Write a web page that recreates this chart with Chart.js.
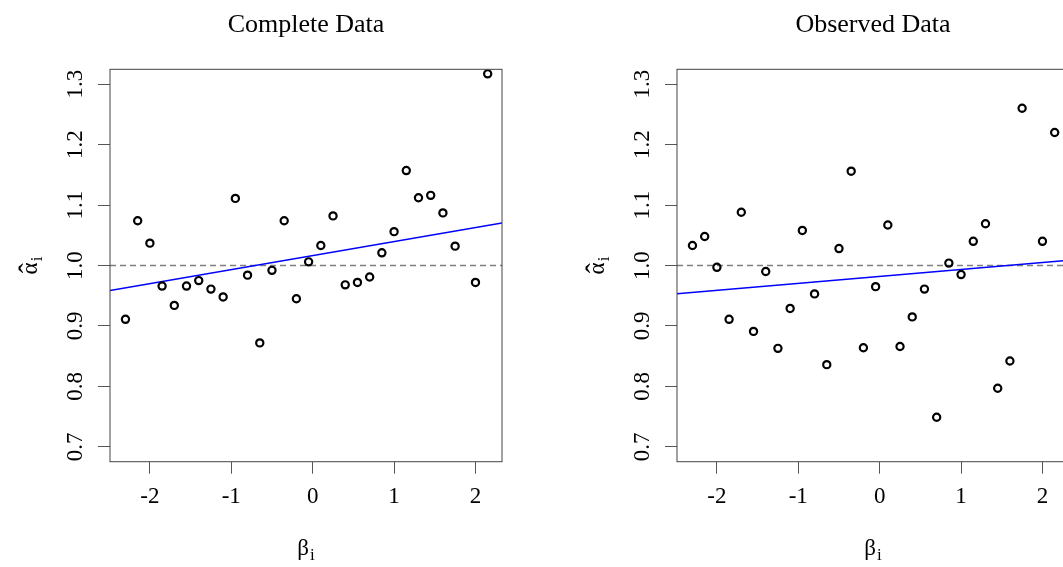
<!DOCTYPE html>
<html>
<head>
<meta charset="utf-8">
<script src="https://cdn.jsdelivr.net/npm/chart.js@4"></script>
<style>
  html, body { margin: 0; padding: 0; background: #fff; overflow: hidden; width: 1063px; height: 567px; }
  .panel { position: absolute; top: 0; width: 531px; height: 567px; }
</style>
</head>
<body>
<div class="panel" style="left:0"><canvas id="completeChart" width="531" height="567"></canvas></div>
<div class="panel" style="left:567px"><canvas id="observedChart" width="531" height="567"></canvas></div>
<script>
// beta_i (x) for every item, same in both panels
const betas = [-2.3, -2.15, -2.0, -1.85, -1.7, -1.55, -1.4, -1.25, -1.1, -0.95,
               -0.8, -0.65, -0.5, -0.35, -0.2, -0.05, 0.1, 0.25, 0.4, 0.55,
               0.7, 0.85, 1.0, 1.15, 1.3, 1.45, 1.6, 1.75, 2.0, 2.15];
// alpha-hat_i estimates
const alphaComplete = [0.911, 1.074, 1.037, 0.966, 0.934, 0.966, 0.975, 0.961, 0.948, 1.111,
                       0.984, 0.872, 0.992, 1.074, 0.945, 1.006, 1.033, 1.082, 0.968, 0.972,
                       0.981, 1.021, 1.056, 1.157, 1.112, 1.116, 1.087, 1.032, 0.972, 1.317];
const alphaObserved = [1.033, 1.048, 0.997, 0.911, 1.088, 0.891, 0.990, 0.863, 0.929, 1.058,
                       0.953, 0.836, 1.028, 1.156, 0.864, 0.965, 1.067, 0.866, 0.915, 0.961,
                       0.749, 1.004, 0.985, 1.040, 1.069, 0.797, 0.842, 1.260, 1.040, 1.220];

const xTicks = [-2, -1, 0, 1, 2];
const yTicks = [0.7, 0.8, 0.9, 1.0, 1.1, 1.2, 1.3];
const xRange = [-2.49, 2.326];
const yRange = [0.6755, 1.3245];

// fitted regression line, value at the two ends of the x range
const fitComplete = [0.9587, 1.0705];
const fitObserved = [0.9532, 1.0086];
const refLine = [1, 1];

const serif = "'Liberation Serif', 'Times New Roman', serif";

// draws text like "alpha-hat sub i"
function drawSymbol(ctx, base, sub, hat, x, y, vertical) {
    ctx.save();
    ctx.translate(x, y);
    if (vertical) ctx.rotate(-Math.PI / 2);
    ctx.fillStyle = "#000";
    ctx.textBaseline = "alphabetic";
    ctx.font = "23px " + serif;
    const bw = ctx.measureText(base).width;
    ctx.font = "17px " + serif;
    const sw = ctx.measureText(sub).width;
    const start = -(bw + sw + 1) / 2;
    ctx.font = "23px " + serif;
    ctx.textAlign = "left";
    ctx.fillText(base, start, 0);
    if (hat) {
        ctx.font = "30px " + serif;
        ctx.textAlign = "center";
        ctx.fillText(hat, start + bw / 2, 2);
    }
    ctx.textAlign = "left";
    ctx.font = "17px " + serif;
    ctx.fillText(sub, start + bw + 1, 5);
    ctx.restore();
}

const rPlot = {
    id: "rPlot",
    afterDraw(chart, args, opts) {
        const { ctx, chartArea: a } = chart;
        ctx.save();
        ctx.strokeStyle = "#444";
        ctx.lineWidth = 1;
        ctx.strokeRect(a.left, a.top, a.right - a.left, a.bottom - a.top);
        const cx = (a.left + a.right) / 2;
        const cy = (a.top + a.bottom) / 2;
        ctx.fillStyle = "#000";
        ctx.font = "26px " + serif;
        ctx.textAlign = "center";
        ctx.textBaseline = "alphabetic";
        ctx.fillText(opts.title, cx, 32);
        ctx.restore();
        drawSymbol(ctx, "\u03b2", "i", null, cx, 555, false);
        drawSymbol(ctx, "\u03b1", "i", "\u02c6", a.left - 73, cy, true);
    }
};

function makeChart(id, title, alphas, fit) {
    return new Chart(document.getElementById(id), {
        data: {
            datasets: [
                {
                    type: "scatter",
                    data: betas.map((b, i) => ({ x: b, y: alphas[i] })),
                    pointStyle: "circle",
                    pointRadius: 3.6,
                    borderWidth: 2.2,
                    borderColor: "#000",
                    backgroundColor: "rgba(0,0,0,0)",
                    order: 1,
                },
                {
                    type: "line",
                    data: xRange.map((x, i) => ({ x: x, y: refLine[i] })),
                    borderColor: "#7f7f7f",
                    borderWidth: 1.3,
                    borderDash: [6, 4],
                    pointRadius: 0,
                    order: 3,
                },
                {
                    type: "line",
                    data: xRange.map((x, i) => ({ x: x, y: fit[i] })),
                    borderColor: "#0000ff",
                    borderWidth: 1.5,
                    pointRadius: 0,
                    order: 2,
                },
            ],
        },
        options: {
            responsive: false,
            animation: false,
            devicePixelRatio: 1,
            layout: { padding: { top: 69.3, right: 29, bottom: 0, left: 0 } },
            plugins: {
                legend: { display: false },
                tooltip: { enabled: false },
                rPlot: { title: title },
            },
            scales: {
                x: {
                    type: "linear",
                    min: xRange[0],
                    max: xRange[1],
                    afterBuildTicks: (s) => { s.ticks = xTicks.map((v) => ({ value: v })); },
                    afterFit: (s) => { s.height = 105.3; },
                    border: { display: false },
                    grid: { drawOnChartArea: false, tickLength: 12, color: "#555" },
                    ticks: {
                        color: "#000",
                        padding: 9,
                        font: { family: serif, size: 23 },
                        callback: (v) => String(v),
                    },
                },
                y: {
                    type: "linear",
                    min: yRange[0],
                    max: yRange[1],
                    afterBuildTicks: (s) => { s.ticks = yTicks.map((v) => ({ value: v })); },
                    afterFit: (s) => { s.width = 110; },
                    border: { display: false },
                    grid: { drawOnChartArea: false, tickLength: 12, color: "#555" },
                    ticks: {
                        color: "#000",
                        padding: 8,
                        minRotation: 90,
                        maxRotation: 90,
                        crossAlign: "center",
                        font: { family: serif, size: 23 },
                        callback: (v) => v.toFixed(1),
                    },
                },
            },
        },
        plugins: [rPlot],
    });
}

makeChart("completeChart", "Complete Data", alphaComplete, fitComplete);
makeChart("observedChart", "Observed Data", alphaObserved, fitObserved);
</script>
</body>
</html>
